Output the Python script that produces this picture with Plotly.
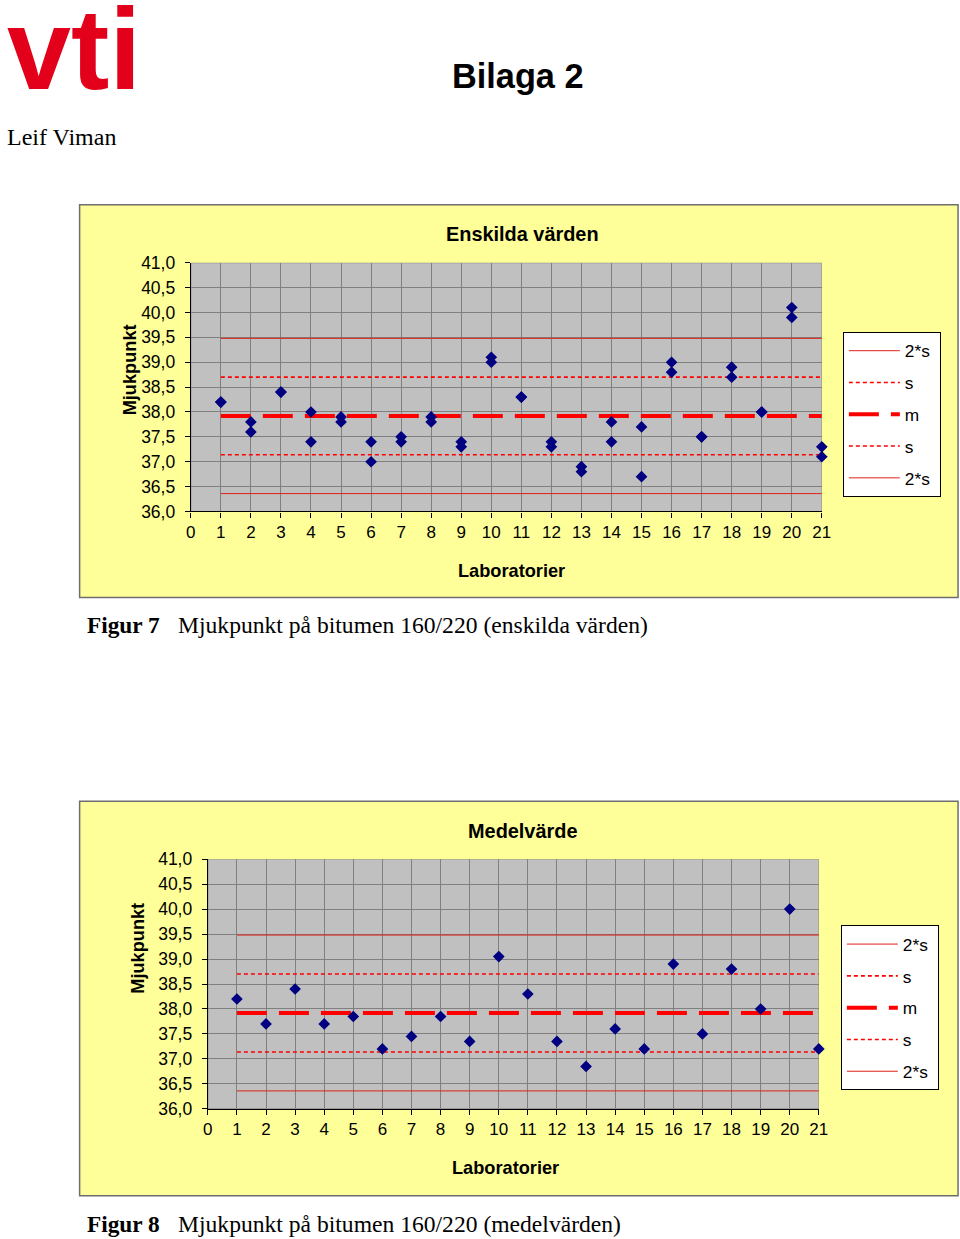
import plotly.graph_objects as go

# ---------------- data ----------------
labs = list(range(1, 22))
# two determinations per laboratory (Figur 7)
value_a = [38.2, 37.8, 38.4, 38.0, 37.9, 37.4, 37.5, 37.9, 37.4, 39.1, 38.3,
           37.4, 36.9, 37.8, 37.7, 39.0, 37.5, 38.9, 38.0, 40.1, 37.3]
value_b = [38.2, 37.6, 38.4, 37.4, 37.8, 37.0, 37.4, 37.8, 37.3, 39.0, 38.3,
           37.3, 36.8, 37.4, 36.7, 38.8, 37.5, 38.7, 38.0, 39.9, 37.1]
# laboratory mean values (Figur 8)
lab_means = [38.2, 37.7, 38.4, 37.7, 37.85, 37.2, 37.45, 37.85, 37.35, 39.05, 38.3,
             37.35, 36.85, 37.6, 37.2, 38.9, 37.5, 38.8, 38.0, 40.0, 37.2]
# reference lines: m + 2s, m + s, m, m - s, m - 2s
limit_names = ["2*s", "s", "m", "s", "2*s"]
limit_levels = [39.48, 38.70, 37.92, 37.14, 36.36]
line_span = [1, 21]
x_ticks = list(range(0, 22))
y_ticks = [36.0, 36.5, 37.0, 37.5, 38.0, 38.5, 39.0, 39.5, 40.0, 40.5, 41.0]
y_ticktext = ["36,0", "36,5", "37,0", "37,5", "38,0", "38,5", "39,0", "39,5", "40,0", "40,5", "41,0"]

# ---------------- layout helpers ----------------
# measured mapping of figure pixels to the photographed picture:
#   picture_x = 4.5 + 0.984 * fig_x ,  picture_y = 9 + 0.985 * fig_y
SX, OX, SY, OY = 0.984, 4.5, 0.985, 9.0
W, H = 972, 1250
def fx(x):
    return (x - OX) / SX
def fy(y):
    return (y - OY) / SY
def px(x):
    return fx(x) / W
def py(y):
    return 1 - fy(y) / H

RED = "#FF0000"
styles = [
    dict(color="#E0201A", width=1, dash="solid"),
    dict(color=RED, width=1.6, dash="4px,3px"),
    dict(color=RED, width=4, dash="30px,12px"),
    dict(color=RED, width=1.6, dash="4px,3px"),
    dict(color="#E0201A", width=1, dash="solid"),
]

fig = go.Figure()

panels = [
    dict(xa="x", ya="y", legend="legend", xs=[value_a, value_b]),
    dict(xa="x2", ya="y2", legend="legend2", xs=[lab_means]),
]

for p in panels:
    for i, (name, lvl) in enumerate(zip(limit_names, limit_levels)):
        label = name + ("&nbsp;" if len(name) > 1 else "")
        fig.add_trace(go.Scatter(
            x=line_span, y=[lvl, lvl], mode="lines", name=label,
            line=styles[i], xaxis=p["xa"], yaxis=p["ya"],
            legend=p["legend"], legendgroup=p["legend"] + str(i),
            hoverinfo="skip"))
    for series in p["xs"]:
        fig.add_trace(go.Scatter(
            x=labs, y=series, mode="markers",
            marker=dict(symbol="diamond", size=9, color="#000080"),
            xaxis=p["xa"], yaxis=p["ya"], showlegend=False, cliponaxis=False))

axis_common = dict(showgrid=True, gridcolor="#808080", gridwidth=1, zeroline=False,
                   showline=True, linecolor="black", linewidth=1.2,
                   ticks="outside", ticklen=5, tickcolor="black", tickwidth=1,
                   fixedrange=True)
xfont = dict(family="Liberation Sans, Arial", size=17, color="black")
yfont = dict(family="Liberation Sans, Arial", size=17.5, color="black")

legend_common = dict(xanchor="left", yanchor="top", bgcolor="white",
                     bordercolor="black", borderwidth=1,
                     font=dict(family="Liberation Sans, Arial", size=17.3, color="black"),
                     itemwidth=51, tracegroupgap=6.3, traceorder="grouped")

fig.update_layout(
    width=W, height=H, margin=dict(l=0, r=0, t=0, b=0),
    paper_bgcolor="white", plot_bgcolor="rgba(0,0,0,0)",
    xaxis=dict(domain=[px(190), px(820)], range=[0, 21], tickvals=x_ticks,
               anchor="y", ticklabelstandoff=0, tickfont=xfont, **axis_common),
    yaxis=dict(domain=[py(511), py(262)], range=[36, 41], tickvals=y_ticks,
               ticktext=y_ticktext, anchor="x", ticklabelstandoff=6, tickfont=yfont,
               **axis_common),
    xaxis2=dict(domain=[px(207), px(817)], range=[0, 21], tickvals=x_ticks,
                anchor="y2", ticklabelstandoff=0, tickfont=xfont, **axis_common),
    yaxis2=dict(domain=[py(1109), py(859)], range=[36, 41], tickvals=y_ticks,
                ticktext=y_ticktext, anchor="x2", ticklabelstandoff=6, tickfont=yfont,
                **axis_common),
    legend=dict(x=px(841), y=1 - (fy(349) - 18) / H, **legend_common),
    legend2=dict(x=px(839), y=1 - (fy(943) - 18) / H, **legend_common),
    showlegend=True,
)

shapes = []
# yellow chart areas
for (x0, y0, x1, y1) in [(79, 204, 956, 597), (79, 801, 956, 1196)]:
    shapes.append(dict(type="rect", xref="paper", yref="paper",
                       x0=px(x0), x1=px(x1), y0=py(y1), y1=py(y0),
                       fillcolor="#FFFF99", line=dict(color="#6E6E6E", width=1.5),
                       layer="below"))
# gray plot areas
for xr, yr in [("x", "y"), ("x2", "y2")]:
    shapes.append(dict(type="rect", xref=xr, yref=yr, x0=0, x1=21, y0=36, y1=41,
                       fillcolor="#C0C0C0", line=dict(color="#808080", width=1),
                       layer="below"))
fig.update_layout(shapes=shapes)

ann = []
def text(x, y, t, size, family="Liberation Sans, Arial", xanchor="center",
         yanchor="middle", color="black", angle=0):
    ann.append(dict(x=x / W, y=1 - y / H, xref="paper", yref="paper", text=t,
                    showarrow=False, xanchor=xanchor, yanchor=yanchor,
                    textangle=angle, font=dict(family=family, size=size, color=color)))

serif = "Liberation Serif, Times New Roman"
# header
text(0, fy(87) - 0.348 * 115, "<b>vti</b>", 115, xanchor="left", color="#E2001A")
text(fx(517), fy(75), "<b>Bilaga 2</b>", 34.3)
text(0, fy(136), "Leif Viman", 24, family=serif, xanchor="left")
# chart 1 titles
text(fx(521), fy(233), "<b>Enskilda värden</b>", 19.9)
text(fx(510), fy(571), "<b>Laboratorier</b>", 18.2)
text(fx(129), fy(369), "<b>Mjukpunkt</b>", 18.2, angle=-90)
# chart 2 titles
text(fx(521), fy(831), "<b>Medelvärde</b>", 19.9)
text(fx(504), fy(1168), "<b>Laboratorier</b>", 18.2)
text(fx(137), fy(948), "<b>Mjukpunkt</b>", 18.2, angle=-90)
# captions
text(fx(88) - 4, fy(625), "<b>Figur 7</b>", 23.3, family=serif, xanchor="left")
text(fx(179) - 4, fy(625), "Mjukpunkt på bitumen 160/220 (enskilda värden)", 23.6,
     family=serif, xanchor="left")
text(fx(88) - 4, fy(1224), "<b>Figur 8</b>", 23.3, family=serif, xanchor="left")
text(fx(179) - 4, fy(1224), "Mjukpunkt på bitumen 160/220 (medelvärden)", 23.6,
     family=serif, xanchor="left")
fig.update_layout(annotations=ann)

fig.write_html("out.html")
